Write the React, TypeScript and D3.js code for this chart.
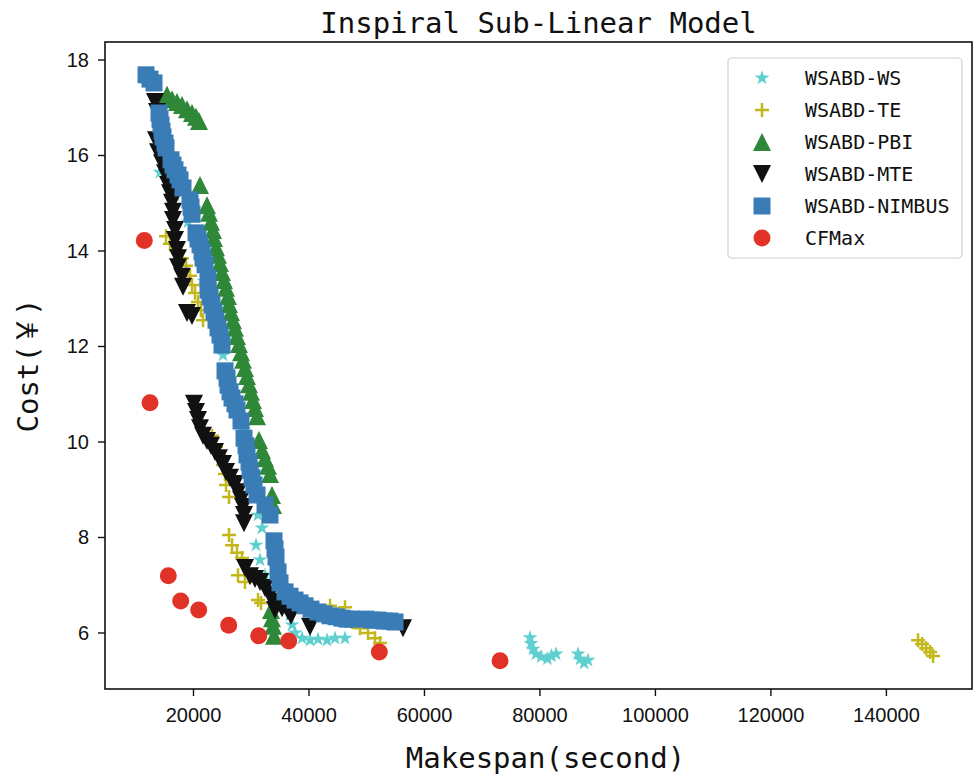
import React from "react";
import * as d3 from "d3";

// ---------- data ----------
const xTicks = [20000, 40000, 60000, 80000, 100000, 120000, 140000];
const yTicks = [6, 8, 10, 12, 14, 16, 18];
const seriesNames = ["WSABD-WS", "WSABD-TE", "WSABD-PBI", "WSABD-MTE", "WSABD-NIMBUS", "CFMax"];

const wsPoints: [number, number][] = [
  [14201, 15.65], [16799, 15.17], [19051, 14.61], [21822, 13.37], [23727, 12.35], [25113, 11.82],
  [26672, 10.88], [28750, 10.25], [30135, 9.41], [31175, 8.47], [31867, 8.2], [30828, 7.84],
  [31521, 7.53], [32387, 7.21], [35332, 6.8], [36198, 6.59], [36717, 6.38], [37064, 6.17],
  [37583, 6.0], [38795, 5.89], [40181, 5.85], [41567, 5.87], [43125, 5.85], [44511, 5.89],
  [46243, 5.89],
  [78285, 5.9], [78460, 5.78], [78800, 5.66], [79300, 5.56], [80200, 5.5], [81300, 5.46],
  [82000, 5.52], [82800, 5.56],
  [86598, 5.56], [86945, 5.45], [87638, 5.37], [88331, 5.43],
];

const tePoints: [number, number][] = [
  [15240, 14.31], [15933, 14.15], [16972, 14.02], [18011, 13.85], [18704, 13.69], [19397, 13.48],
  [19743, 13.29], [20263, 13.12], [20783, 12.93], [21302, 12.76], [21649, 12.55],
  [23207, 10.13], [23900, 9.9], [24593, 9.71], [25113, 9.52], [25459, 9.33], [25632, 9.1],
  [26152, 8.85], [26152, 8.05], [26672, 7.84], [27537, 7.68], [28403, 7.57], [27711, 7.21],
  [28923, 7.07], [31175, 6.69], [31694, 6.63], [43645, 6.57], [46243, 6.54], [47455, 6.23],
  [48841, 6.1], [50227, 6.0], [51439, 5.89], [52305, 5.79],
  [145487, 5.85], [146180, 5.77], [146873, 5.68], [147566, 5.6], [148085, 5.52],
];

const pbiPoints: [number, number][] = [
  [15413, 17.27], [16279, 17.18], [17145, 17.12], [18011, 17.06], [18877, 16.97], [19743, 16.89],
  [20436, 16.81], [20956, 16.72], [21129, 15.38],
  [22341, 14.96], [22688, 14.8], [23034, 14.61], [23381, 14.44], [23554, 14.27], [23900, 14.08],
  [24247, 13.92], [24593, 13.75], [24939, 13.56], [25286, 13.39], [25632, 13.23], [25979, 13.06],
  [26152, 12.89], [26498, 12.72], [26845, 12.55], [27191, 12.39], [27537, 12.22], [27884, 12.05],
  [28230, 11.88], [28577, 11.72], [28923, 11.55], [29269, 11.38], [29616, 11.21], [29962, 11.05],
  [30309, 10.88], [30655, 10.71], [31001, 10.54], [31348, 10.04], [31867, 9.83], [32387, 9.66],
  [32907, 9.5], [33253, 9.33], [33599, 8.89], [33772, 8.68],
  [33426, 6.48], [33599, 6.31], [33772, 6.15], [33945, 5.94],
];

const mtePoints: [number, number][] = [
  [13335, 17.12], [13681, 16.91], [13508, 16.32], [13855, 16.07], [14547, 15.84], [15067, 15.63],
  [15587, 15.38], [15933, 15.21], [16279, 15.01], [16453, 14.82], [16453, 14.65], [16799, 14.44],
  [16799, 14.23], [17145, 14.02], [17319, 13.85], [17319, 13.66], [18011, 13.46], [18185, 13.25],
  [18877, 12.7], [19743, 12.64],
  [20090, 10.8], [20436, 10.63], [20783, 10.46], [21129, 10.29], [21649, 10.13], [22341, 10.02],
  [23034, 9.92], [23727, 9.79], [24420, 9.66], [25113, 9.54], [25632, 9.37], [26325, 9.25],
  [27191, 9.12], [27711, 8.95], [28230, 8.79], [28577, 8.64], [28750, 8.47], [28750, 8.3],
  [28923, 7.36], [29789, 7.19], [30655, 7.13], [31521, 7.07], [32387, 6.94], [33253, 6.8],
  [33772, 6.65], [34119, 6.48], [35332, 6.52], [36371, 6.46], [36890, 6.36], [40181, 6.13],
  [56289, 6.1],
];

const nimbusPoints: [number, number][] = [
  [11780, 17.69], [12470, 17.6], [13162, 17.52],
  [14028, 16.89], [14201, 16.76], [14374, 16.64], [14547, 16.51], [14720, 16.39], [15067, 16.26],
  [15240, 16.16], [16106, 15.91], [16453, 15.8], [16799, 15.7], [17319, 15.59], [17665, 15.49],
  [18185, 15.32], [19397, 15.07], [19570, 14.92], [19743, 14.77], [20436, 14.38], [20783, 14.25],
  [21129, 14.13], [21475, 13.98], [21649, 13.85], [21995, 13.71], [22515, 13.43], [22515, 13.18],
  [22861, 13.04], [23207, 12.87], [23554, 12.72], [23900, 12.55], [24247, 12.39], [24593, 12.24],
  [24939, 12.03], [25459, 11.49], [25806, 11.34], [25979, 11.19], [26325, 11.05], [26672, 10.92],
  [27191, 10.8], [27537, 10.67], [28230, 10.44], [28750, 10.08], [29096, 9.92], [29269, 9.73],
  [29616, 9.58], [29789, 9.41], [30135, 9.25], [30482, 9.1], [31001, 8.89], [32387, 8.68],
  [33253, 8.47], [33945, 7.93], [34119, 7.76], [34292, 7.59], [34639, 7.28], [34985, 7.05],
  [35851, 6.86], [36717, 6.77], [37583, 6.69], [38449, 6.63], [39315, 6.57], [40354, 6.5],
  [41567, 6.44], [42606, 6.4], [43645, 6.36], [44684, 6.34], [45723, 6.31], [46589, 6.29],
  [47455, 6.29], [49880, 6.29], [50919, 6.27], [51959, 6.27], [52998, 6.25], [54037, 6.25],
  [54903, 6.23],
];

const cfmaxPoints: [number, number][] = [
  [11482, 14.22], [12469, 10.82], [15639, 7.2], [17786, 6.67], [20904, 6.48], [26100, 6.16],
  [31296, 5.94], [36491, 5.83], [52184, 5.6], [73089, 5.42],
];

// ---------- styling ----------
const W = 975, H = 779;
const M = { left: 105, right: 972, top: 42, bottom: 689 };
const colors = ["#5fcfcf", "#c2b81c", "#2e8838", "#111111", "#3a7db6", "#e03226"];
const monoFont = "'DejaVu Sans Mono', 'Noto Sans CJK SC', monospace";
const tickFont = "'Liberation Sans', Arial, sans-serif";

function starPath(R: number) {
  const pts: string[] = [];
  for (let i = 0; i < 10; i++) {
    const a = (-90 + i * 36) * Math.PI / 180;
    const r = i % 2 === 0 ? R : R * 0.381966;
    pts.push(`${(r * Math.cos(a)).toFixed(2)},${(r * Math.sin(a)).toFixed(2)}`);
  }
  return "M" + pts.join("L") + "Z";
}

type Marker = { kind: "path"; d: string } | { kind: "plus"; s: number } | { kind: "circle"; r: number };
const markers: Marker[] = [
  { kind: "path", d: starPath(7.8) },
  { kind: "plus", s: 7 },
  { kind: "path", d: "M0,-9L9,9L-9,9Z" },
  { kind: "path", d: "M0,9L9,-9L-9,-9Z" },
  { kind: "path", d: "M-8.5,-8.5H8.5V8.5H-8.5Z" },
  { kind: "circle", r: 8.5 },
];

function MarkerShape({ m, color, x, y }: { m: Marker; color: string; x: number; y: number }) {
  const t = `translate(${x},${y})`;
  if (m.kind === "circle") return <circle cx={x} cy={y} r={m.r} fill={color} />;
  if (m.kind === "plus")
    return (
      <path transform={t} d={`M${-m.s},0H${m.s}M0,${-m.s}V${m.s}`} stroke={color} strokeWidth={2.5} fill="none" />
    );
  return <path transform={t} d={m.d} fill={color} />;
}

export default function App() {
  const x = d3.scaleLinear().domain([4675, 154825]).range([M.left, M.right]);
  const y = d3.scaleLinear().domain([4.827, 18.377]).range([M.bottom, M.top]);
  const allSeries = [wsPoints, tePoints, pbiPoints, mtePoints, nimbusPoints, cfmaxPoints];
  const cx = (M.left + M.right) / 2;
  const cy = (M.top + M.bottom) / 2;

  return (
    <svg width={W} height={H} style={{ position: "absolute", left: 0, top: 0, background: "#fff" }}>
      <rect width={W} height={H} fill="#fff" />
      <defs>
        <clipPath id="plot">
          <rect x={M.left} y={M.top} width={M.right - M.left} height={M.bottom - M.top} />
        </clipPath>
      </defs>
      <g clipPath="url(#plot)">
        {allSeries.map((pts, si) => (
          <g key={si}>
            {pts.map((p, i) => (
              <MarkerShape key={i} m={markers[si]} color={colors[si]} x={x(p[0])} y={y(p[1])} />
            ))}
          </g>
        ))}
      </g>
      {/* frame */}
      <rect x={M.left} y={M.top} width={M.right - M.left} height={M.bottom - M.top} fill="none" stroke="#111" strokeWidth={1.6} />
      {/* x ticks */}
      {xTicks.map((t) => (
        <g key={t}>
          <line x1={x(t)} x2={x(t)} y1={M.bottom} y2={M.bottom + 7} stroke="#111" strokeWidth={1.4} />
          <text x={x(t)} y={722} textAnchor="middle" fontFamily={tickFont} fontSize={20} fill="#111">
            {t}
          </text>
        </g>
      ))}
      {/* y ticks */}
      {yTicks.map((t) => (
        <g key={t}>
          <line x1={M.left - 7} x2={M.left} y1={y(t)} y2={y(t)} stroke="#111" strokeWidth={1.4} />
          <text x={89} y={y(t) + 7} textAnchor="end" fontFamily={tickFont} fontSize={20} fill="#111">
            {t}
          </text>
        </g>
      ))}
      {/* title and labels */}
      <text x={cx} y={33} textAnchor="middle" fontFamily={monoFont} fontSize={29} fill="#111">
        Inspiral Sub-Linear Model
      </text>
      <text x={cx + 7} y={768} textAnchor="middle" fontFamily={monoFont} fontSize={29} fill="#111">
        Makespan(second)
      </text>
      <text
        transform={`translate(38,${cy}) rotate(-90)`}
        textAnchor="middle"
        fontFamily={monoFont}
        fontSize={29}
        fill="#111"
      >
        Cost(￥)
      </text>
      {/* legend */}
      <rect x={728} y={58} width={234} height={200} rx={4} fill="#fff" fillOpacity={0.8} stroke="#cfcfcf" strokeWidth={1.2} />
      {seriesNames.map((n, i) => {
        const ry = 78 + i * 32;
        return (
          <g key={n}>
            <MarkerShape m={markers[i]} color={colors[i]} x={762} y={ry} />
            <text x={805} y={ry + 7} fontFamily={monoFont} fontSize={20} fill="#111">
              {n}
            </text>
          </g>
        );
      })}
    </svg>
  );
}
